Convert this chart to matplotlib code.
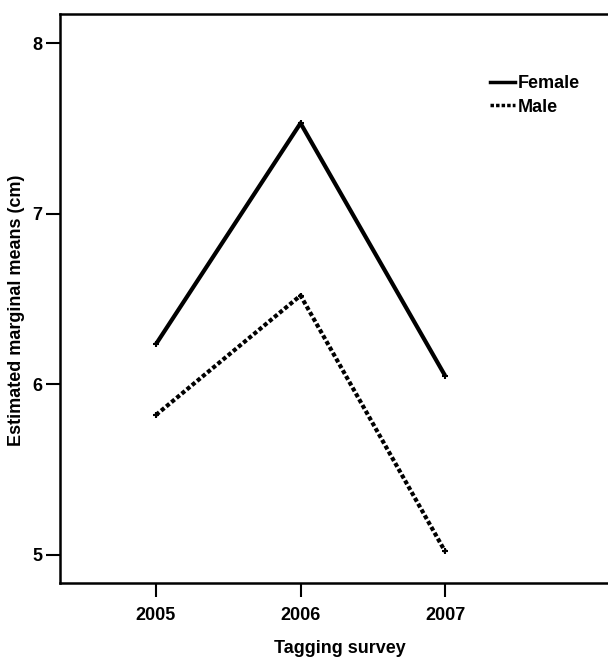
import matplotlib.pyplot as plt
from matplotlib.lines import Line2D

years = [2005, 2006, 2007]
female = [6.235, 7.53, 6.05]
male = [5.82, 6.52, 5.02]
yticks = [5, 6, 7, 8]

plt.rcParams['font.family'] = 'Liberation Sans'
plt.rcParams['font.weight'] = 'bold'

fig = plt.figure(figsize=(6.08, 6.59), dpi=100)
ax = fig.add_axes([60 / 608, 1 - 583 / 659, 560 / 608, 569 / 659])

ax.plot(years, female, color='black', lw=3, solid_capstyle='butt',
        marker='+', ms=5, mew=1.5)
ax.plot(years, male, color='black', lw=3, linestyle=(0, (1, 0.6)),
        marker='+', ms=5, mew=1.5)

ax.set_xlim(2004.336, 2008.21)
ax.set_ylim(4.835, 8.17)
ax.set_xticks(years)
ax.set_yticks(yticks)
ax.tick_params(axis='both', length=10, width=1.5, labelsize=13, pad=3)
ax.tick_params(axis='x', pad=7)
for s in ax.spines.values():
    s.set_linewidth(1.8)
ax.spines['right'].set_visible(False)

ax.set_xlabel('Tagging survey', fontsize=13, fontweight='bold', labelpad=12)
ax.set_ylabel('Estimated marginal means (cm)', fontsize=13, fontweight='bold')
ax.yaxis.set_label_coords(-0.062, 0.48)

handles = [Line2D([], [], color='black', lw=2.5),
           Line2D([], [], color='black', lw=2.5, linestyle=(0, (1, 0.6)))]
ax.legend(handles, ['Female', 'Male'], loc='upper left', bbox_to_anchor=(0.752, 0.908),
          frameon=False, fontsize=13, handlelength=1.4, handletextpad=0.15,
          labelspacing=0.35, borderpad=0)

fig.savefig('out.png', dpi=100)
